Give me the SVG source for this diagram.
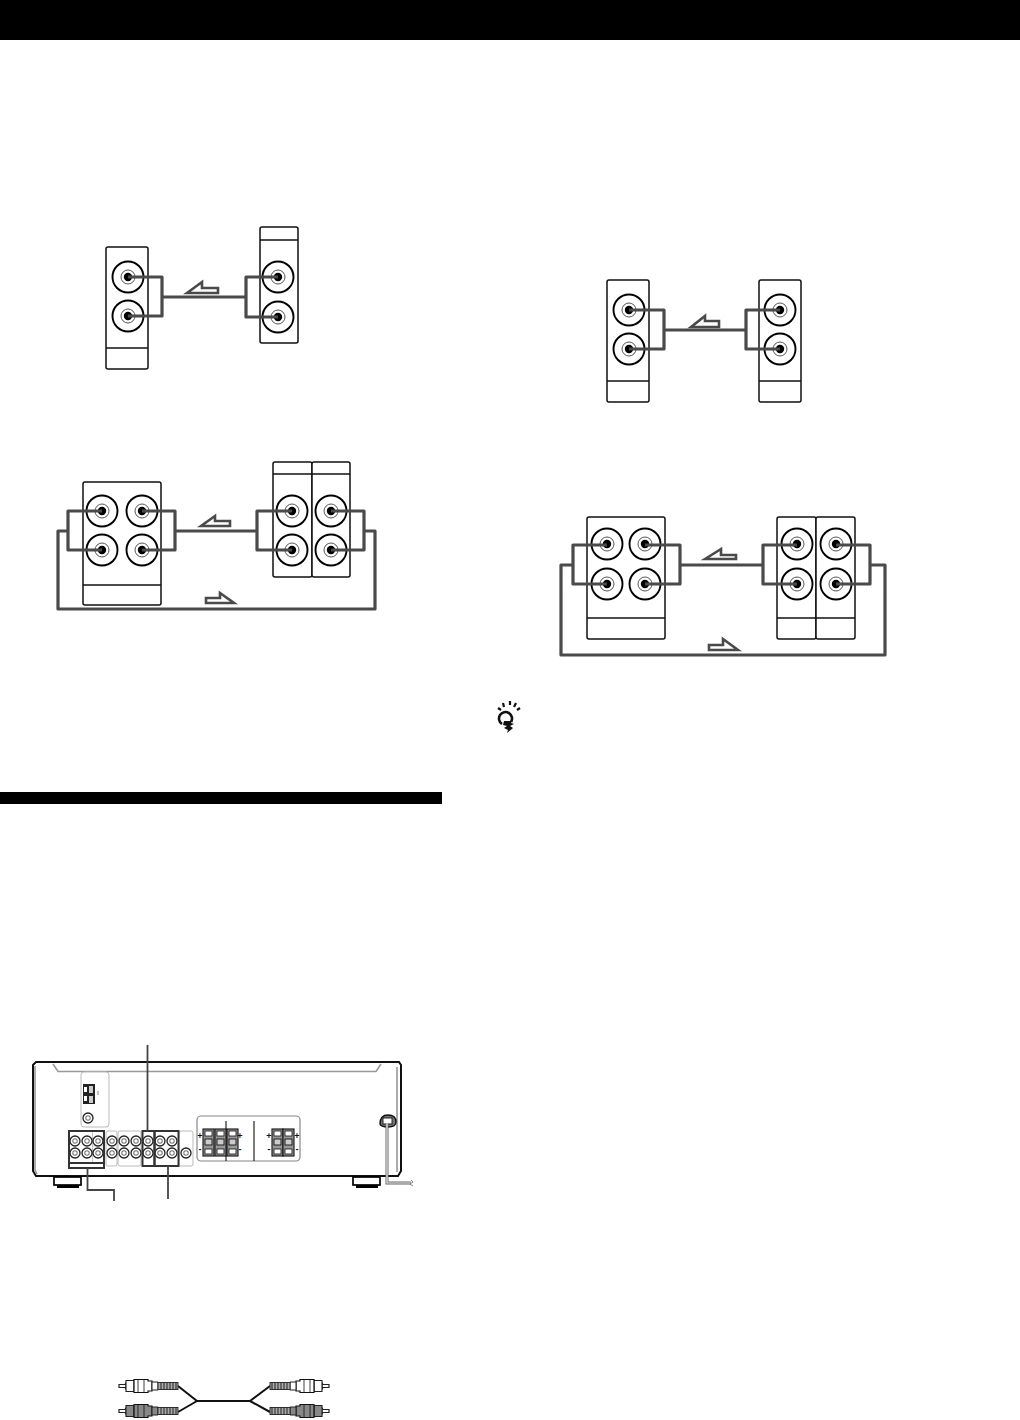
<svg xmlns="http://www.w3.org/2000/svg" xmlns:xlink="http://www.w3.org/1999/xlink" width="1020" height="1420" viewBox="0 0 1020 1420">
<style>
.box{fill:#fff;stroke:#111;stroke-width:1.5}
.div{stroke:#111;stroke-width:1.3;fill:none}
.cable{fill:none;stroke:#4a4a4a;stroke-width:3.2;stroke-linejoin:round}
.arrow{fill:#fff;stroke:#4a4a4a;stroke-width:2.6;stroke-linejoin:miter}
.gp{fill:#fff;stroke:#bbb;stroke-width:1}
.dk{fill:none;stroke:#333;stroke-width:2}
.lead{fill:none;stroke:#444;stroke-width:1.8}
.mark{font-family:"Liberation Sans",Arial,sans-serif;font-weight:bold;font-size:9px;fill:#111;text-anchor:middle}
.gline{fill:none;stroke:#999;stroke-width:1.6}
</style>
<defs>
<g id="jack"><circle r="15.5" fill="#fff" stroke="#000" stroke-width="1.9"/><circle r="7" fill="#fff" stroke="#444" stroke-width="0.9"/><circle r="4.2" fill="#000"/></g>
<g id="mj"><circle r="5" fill="#fff" stroke="#222" stroke-width="1.3"/><circle r="2.2" fill="#fff" stroke="#777" stroke-width="1.1"/></g>
<g id="term"><rect x="0" y="0" width="11" height="27" fill="#999" stroke="#111" stroke-width="1.1"/><rect x="2" y="2" width="7" height="5" fill="#fff" stroke="#111" stroke-width="0.8"/><rect x="2" y="10" width="7" height="6" fill="#ccc" stroke="#111" stroke-width="0.9"/><rect x="2" y="20" width="7" height="5" fill="#fff" stroke="#111" stroke-width="0.8"/></g>
<g id="plug"><path d="M-59-1.500H-53L-52-3V3L-53 1.500H-59Z" fill="#fff" stroke="#222" stroke-width="1.200"/><path d="M-52-5.500H-44V5.500H-52Z" stroke="#222" stroke-width="1.100"/><path d="M-44-6.500H-30V-5H-26V5H-30V6.500H-44Z" stroke="#111" stroke-width="1.200"/><path d="M-40-6V6M-34-6V6" stroke="#111" stroke-width="0.8" fill="none"/><path d="M-26-4H-20V4H-26Z" stroke="#222" stroke-width="1"/><rect x="-20" y="-3.500" width="20" height="7" fill="#aaa" stroke="#222" stroke-width="0.9"/><path d="M-17-3.500V3.500M-14-3.500V3.500M-11-3.500V3.500M-8-3.500V3.500M-5-3.500V3.500M-2-3.500V3.500" stroke="#222" stroke-width="1"/></g>
</defs>

<rect id="top-bar" x="0" y="0" width="1020" height="40" fill="#000"/>
<rect id="section-bar" x="0" y="792" width="442" height="12" fill="#000"/>

<g id="diagram-a">
<g id="a-left"><rect class="box" x="106" y="247" width="42" height="122" rx="2"/><path class="div" d="M106 348H148"/><use xlink:href="#jack" x="128" y="277"/><use xlink:href="#jack" x="128" y="316"/></g>
<g id="a-right"><rect class="box" x="260" y="227" width="38" height="116" rx="2"/><path class="div" d="M260 240H298"/><use xlink:href="#jack" x="278" y="277"/><use xlink:href="#jack" x="278" y="317"/></g>
<g id="a-connectors"><path class="cable" d="M128 277H162V316H128M162 297H246M278 277H246V317H278"/><path class="arrow" d="M187 293L202 282V288H218V293Z"/></g>
</g>

<g id="diagram-b">
<g id="b-left"><rect class="box" x="83" y="482" width="78" height="123" rx="2"/><path class="div" d="M83 585H161"/><use xlink:href="#jack" x="102" y="511"/><use xlink:href="#jack" x="142" y="511"/><use xlink:href="#jack" x="102" y="550"/><use xlink:href="#jack" x="142" y="550"/></g>
<g id="b-right"><rect class="box" x="273" y="462" width="39" height="115" rx="2"/><rect class="box" x="312" y="462" width="38" height="115" rx="2"/><path class="div" d="M273 474H350"/><use xlink:href="#jack" x="292" y="511"/><use xlink:href="#jack" x="292" y="550"/><use xlink:href="#jack" x="331" y="511"/><use xlink:href="#jack" x="331" y="550"/></g>
<g id="b-connectors"><path class="cable" d="M102 511H68V550H102M142 511H175V550H142M175 531H257M292 511H257V550H292M331 511H364V550H331M68 531H58V609H375V531H364"/><path class="arrow" d="M201 526L215 516V521H230V526Z"/><path class="arrow" d="M206 603V598H220V593L234 603Z"/></g>
</g>

<g id="diagram-c">
<g id="c-left"><rect class="box" x="607" y="280" width="42" height="122" rx="2"/><path class="div" d="M607 381H649"/><use xlink:href="#jack" x="629" y="310"/><use xlink:href="#jack" x="629" y="349"/></g>
<g id="c-right"><rect class="box" x="759" y="280" width="42" height="122" rx="2"/><path class="div" d="M759 381H801"/><use xlink:href="#jack" x="780" y="310"/><use xlink:href="#jack" x="780" y="349"/></g>
<g id="c-connectors"><path class="cable" d="M629 310H664V349H629M664 330H746M780 310H746V349H780"/><path class="arrow" d="M691 327L705 316V321H719V327Z"/></g>
</g>

<g id="diagram-d">
<g id="d-left"><rect class="box" x="587" y="517" width="78" height="122" rx="2"/><path class="div" d="M587 618H665"/><use xlink:href="#jack" x="607" y="544"/><use xlink:href="#jack" x="645" y="544"/><use xlink:href="#jack" x="607" y="584"/><use xlink:href="#jack" x="645" y="584"/></g>
<g id="d-right"><rect class="box" x="777" y="517" width="39" height="122" rx="2"/><rect class="box" x="816" y="517" width="39" height="122" rx="2"/><path class="div" d="M777 618H855"/><use xlink:href="#jack" x="797" y="544"/><use xlink:href="#jack" x="797" y="584"/><use xlink:href="#jack" x="836" y="544"/><use xlink:href="#jack" x="836" y="584"/></g>
<g id="d-connectors"><path class="cable" d="M607 545H573V584H607M645 545H680V584H645M680 565H763M797 545H763V584H797M836 545H870V584H836M573 565H561V655H885V565H870"/><path class="arrow" d="M705 559L721 549V555H736V559Z"/><path class="arrow" d="M709 650V645H723V639L738 650Z"/></g>
</g>

<g id="tip-icon" fill="#111" stroke="none">
<path d="M502 724A6.500 6.500 0 1 1 511 722" fill="none" stroke="#111" stroke-width="2.600"/>
<path d="M504 721H511V723L514 724L510 726L513 728L507 733L508 730L504 728L507 726L503 725Z"/>
<path d="M498 708L501 710M503 703L504 707M510 701V705M516 703L514 707M520 708L517 710" fill="none" stroke="#111" stroke-width="2.200"/>
</g>

<g id="receiver">
<path d="M36 1062H399L401 1065V1171L398 1176H36L33 1171V1065Z" fill="#fff" stroke="#111" stroke-width="2"/>
<path class="gline" d="M35 1066V1170L37 1174M53 1064L58 1071.500H376L381 1064M397 1067V1172"/>
<rect x="54" y="1177" width="27" height="8" fill="#fff" stroke="#000" stroke-width="1.700"/><rect x="57" y="1185" width="22" height="3" fill="#000"/>
<rect x="353" y="1177" width="27" height="8" fill="#fff" stroke="#000" stroke-width="1.700"/><rect x="356" y="1185" width="22" height="3" fill="#000"/>
</g>
<g id="antenna-panel">
<rect class="gp" x="81" y="1072" width="28" height="55" rx="3"/>
<rect x="83" y="1084" width="12" height="20" fill="#222"/><rect x="84" y="1087" width="3" height="5" fill="#fff"/><rect x="84" y="1096" width="3" height="5" fill="#fff"/><rect x="89" y="1086" width="4" height="7" fill="#ccc"/><rect x="89" y="1096" width="4" height="7" fill="#ccc"/>
<path d="M98 1091V1095" stroke="#666" stroke-width="0.8"/>
<use xlink:href="#mj" x="88" y="1118"/>
</g>
<g id="jack-panel">
<rect class="gp" x="106" y="1131" width="11" height="35" rx="2"/><rect class="gp" x="118" y="1131" width="23" height="35" rx="2"/><rect class="gp" x="179" y="1131" width="14" height="35" rx="2"/>
<path d="M92.500 1131V1163M92.500 1146H104" stroke="#bbb" stroke-width="0.8"/>
<use xlink:href="#mj" x="75" y="1141"/><use xlink:href="#mj" x="87" y="1141"/><use xlink:href="#mj" x="98" y="1141"/><use xlink:href="#mj" x="112" y="1141"/><use xlink:href="#mj" x="124" y="1141"/><use xlink:href="#mj" x="136" y="1141"/><use xlink:href="#mj" x="148" y="1141"/><use xlink:href="#mj" x="160" y="1141"/><use xlink:href="#mj" x="172" y="1141"/>
<use xlink:href="#mj" x="75" y="1153"/><use xlink:href="#mj" x="87" y="1153"/><use xlink:href="#mj" x="98" y="1153"/><use xlink:href="#mj" x="112" y="1153"/><use xlink:href="#mj" x="124" y="1153"/><use xlink:href="#mj" x="136" y="1153"/><use xlink:href="#mj" x="148" y="1153"/><use xlink:href="#mj" x="160" y="1153"/><use xlink:href="#mj" x="172" y="1153"/><use xlink:href="#mj" x="186" y="1153"/>
<rect class="dk" x="69" y="1131" width="35" height="37"/><path class="dk" d="M69 1163H104"/>
<rect class="dk" x="142.500" y="1131" width="12" height="35"/><rect class="dk" x="154.500" y="1131" width="24" height="35"/>
</g>
<g id="speaker-panel">
<rect x="197" y="1116" width="103" height="45" rx="4" fill="#fff" stroke="#888" stroke-width="1.200"/>
<path d="M226 1121V1161M254 1121V1161" stroke="#111" stroke-width="1.100"/>
<use xlink:href="#term" x="203" y="1129"/><use xlink:href="#term" x="215" y="1129"/><use xlink:href="#term" x="227" y="1129"/>
<use xlink:href="#term" x="272" y="1129"/><use xlink:href="#term" x="283" y="1129"/>
<text class="mark" x="200" y="1139">+</text><text class="mark" x="240" y="1139">+</text><text class="mark" x="200" y="1152">-</text><text class="mark" x="240" y="1152">-</text>
<text class="mark" x="269" y="1139">+</text><text class="mark" x="297" y="1139">+</text><text class="mark" x="269" y="1152">-</text><text class="mark" x="297" y="1152">-</text>
</g>
<g id="power-cord">
<path d="M380 1124Q380 1115 388 1115Q396 1115 396 1122Q396 1127 388 1127Q381 1127 380 1124Z" fill="#777" stroke="#111" stroke-width="1.400"/>
<rect x="383" y="1118" width="9" height="6" fill="#fff" stroke="#111" stroke-width="0.9"/>
<path d="M387 1123V1183H411" fill="none" stroke="#666" stroke-width="3"/>
<path d="M387 1123V1183H411" fill="none" stroke="#eee" stroke-width="1.200"/>
<path d="M411 1180L413 1182L410 1184L413 1186" fill="none" stroke="#777" stroke-width="0.9"/>
</g>
<g id="leaders">
<path class="lead" d="M147.500 1045V1131M87.500 1168V1190H114V1201M168 1166V1199"/>
</g>

<g id="rca-cable">
<path d="M178 1386L197 1401H250L270 1386M178 1412L197 1401M270 1412L250 1401" fill="none" stroke="#111" stroke-width="2"/>
<use xlink:href="#plug" x="178" y="1386" fill="#fff"/>
<use xlink:href="#plug" x="178" y="1411" fill="#888"/>
<use xlink:href="#plug" transform="translate(270 1386) scale(-1 1)" fill="#fff"/>
<use xlink:href="#plug" transform="translate(270 1411) scale(-1 1)" fill="#888"/>
</g>
</svg>
